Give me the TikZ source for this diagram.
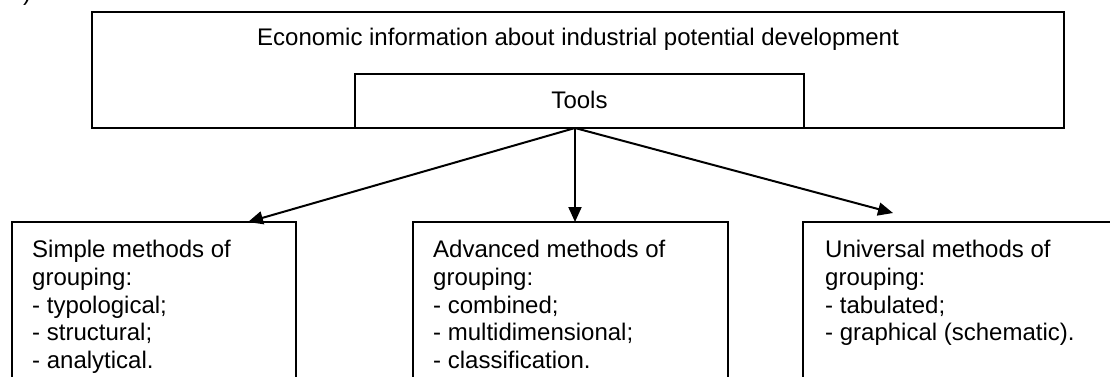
\documentclass[tikz,border=0pt]{standalone}
\usepackage{fontspec}
\setmainfont{Liberation Sans}
\usetikzlibrary{arrows.meta}
\begin{document}
\begin{tikzpicture}[x=1pt,y=-1pt,
  box/.style={draw,line width=2pt,rectangle,inner sep=0pt,outer sep=0pt,anchor=north west},
  lbl/.style={font=\fontsize{24}{27.7}\selectfont,inner sep=0pt},
  arr/.style={line width=2pt,-{Triangle[length=15pt,width=13pt]}}]
\useasboundingbox (0,0) rectangle (1110,376);
\node[lbl,anchor=base] (frag) at (27,0) {)};
\node[box,minimum width=972pt,minimum height=116pt] (info) at (92,12) {};
\node[lbl,anchor=base] (infotext) at (578,45) {Economic information about industrial potential development};
\node[box,line width=1.5pt,minimum width=449pt,minimum height=54pt] (tools) at (355,74) {};
\node[lbl,anchor=base] (toolstext) at (579.5,108) {Tools};
\node[box,minimum width=284pt,minimum height=200pt] (simple) at (12,222) {};
\node[lbl,anchor=north west,align=left] (simpletext) at (32,240) {Simple methods of\\grouping:\\- typological;\\- structural;\\- analytical.};
\node[box,minimum width=315pt,minimum height=200pt] (adv) at (413,222) {};
\node[lbl,anchor=north west,align=left] (advtext) at (433,240) {Advanced methods of\\grouping:\\- combined;\\- multidimensional;\\- classification.};
\node[box,minimum width=309pt,minimum height=200pt] (univ) at (803,222) {};
\node[lbl,anchor=north west,align=left] (univtext) at (825,240) {Universal methods of\\grouping:\\- tabulated;\\- graphical (schematic).};
\coordinate (src) at ([xshift=-4.5pt]tools.south);
\draw[arr] (src) -- ([xshift=-48pt]simple.north east);
\draw[arr] (src) -- (src |- adv.north);
\draw[arr] (src) -- ([xshift=90pt,yshift=9pt]univ.north west);
\end{tikzpicture}
\end{document}
